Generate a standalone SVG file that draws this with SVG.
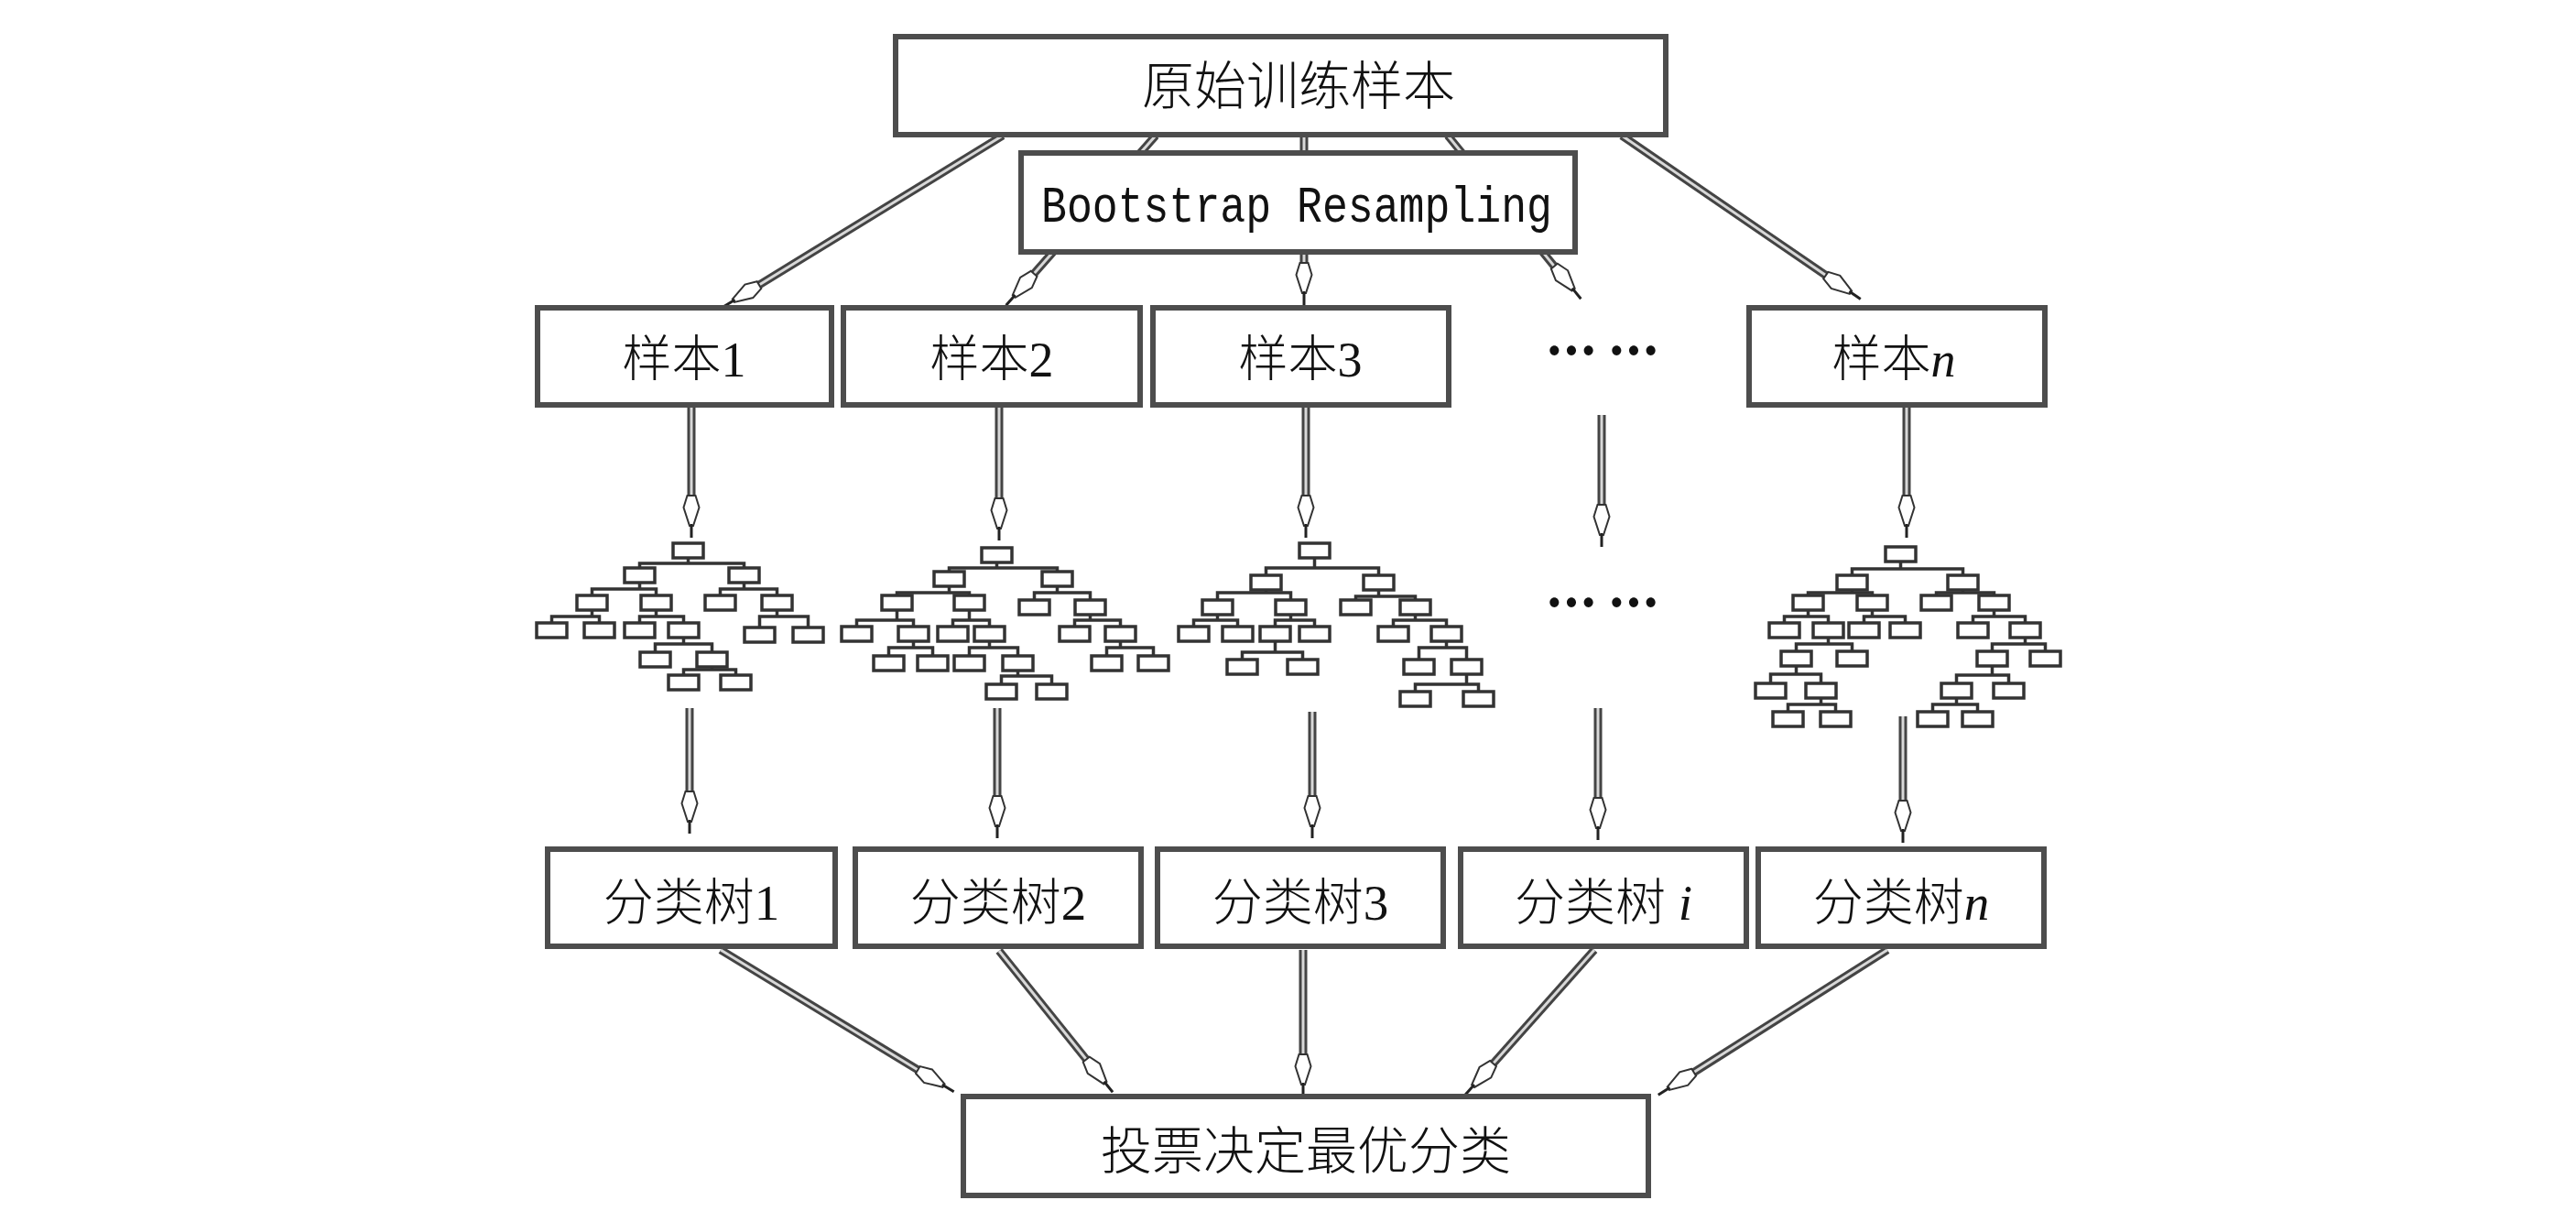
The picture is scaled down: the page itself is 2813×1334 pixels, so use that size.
<svg xmlns="http://www.w3.org/2000/svg" xmlns:xlink="http://www.w3.org/1999/xlink" width="2813" height="1334" viewBox="0 0 2813 1334">
<style>
.box{fill:#fff;stroke:#4d4d4d;stroke-width:6}
.cj{font-family:"Noto Sans CJK SC","Noto Sans CJK JP",sans-serif;font-size:54px;fill:#111;text-anchor:middle;font-weight:300}
.lat{font-family:"Liberation Serif",serif}
.it{font-family:"Liberation Serif",serif;font-style:italic}
.mono{font-family:"Liberation Mono",monospace;font-size:56px;fill:#111}
.tr rect{fill:#fff;stroke:#333;stroke-width:3.5}
.tr path{fill:none;stroke:#333;stroke-width:3.5}
.s1{stroke:#444;stroke-width:9}
.s2{stroke:#d8d8d8;stroke-width:3}
.dots{font-family:"Noto Sans CJK SC",sans-serif;font-size:60px;font-weight:900;fill:#111}
</style>
<defs>
<g id="hd">
<polygon points="-4.5,-46 -8.5,-33 -2,-13 2,-13 8.5,-33 4.5,-46" fill="#fff" stroke="#333" stroke-width="2"/>
<line x1="0" y1="-15" x2="0" y2="0" stroke="#222" stroke-width="3"/>
</g>
</defs>
<rect width="2813" height="1334" fill="#fff"/>
<g id="connectors">
<g transform="translate(1095 148) rotate(58.5)"><line class="s1" y2="312"/><line class="s2" y2="312"/><use xlink:href="#hd" y="358"/></g>
<g transform="translate(1262 148) rotate(41.4)"><line class="s1" y2="201"/><line class="s2" y2="201"/><use xlink:href="#hd" y="247"/></g>
<g transform="translate(1424 148)"><line class="s1" y2="139"/><line class="s2" y2="139"/><use xlink:href="#hd" y="185"/></g>
<g transform="translate(1581 148) rotate(-39.2)"><line class="s1" y2="184"/><line class="s2" y2="184"/><use xlink:href="#hd" y="230"/></g>
<g transform="translate(1771 148) rotate(-55.6)"><line class="s1" y2="270"/><line class="s2" y2="270"/><use xlink:href="#hd" y="316"/></g>
<g transform="translate(755 443)"><line class="s1" y2="98"/><line class="s2" y2="98"/><use xlink:href="#hd" y="144"/></g>
<g transform="translate(1091 445)"><line class="s1" y2="99"/><line class="s2" y2="99"/><use xlink:href="#hd" y="145"/></g>
<g transform="translate(1426 443)"><line class="s1" y2="98"/><line class="s2" y2="98"/><use xlink:href="#hd" y="144"/></g>
<g transform="translate(1749 453)"><line class="s1" y2="98"/><line class="s2" y2="98"/><use xlink:href="#hd" y="144"/></g>
<g transform="translate(2082 445)"><line class="s1" y2="96"/><line class="s2" y2="96"/><use xlink:href="#hd" y="142"/></g>
<g transform="translate(753 773)"><line class="s1" y2="91"/><line class="s2" y2="91"/><use xlink:href="#hd" y="137"/></g>
<g transform="translate(1089 773)"><line class="s1" y2="96"/><line class="s2" y2="96"/><use xlink:href="#hd" y="142"/></g>
<g transform="translate(1433 777)"><line class="s1" y2="92"/><line class="s2" y2="92"/><use xlink:href="#hd" y="138"/></g>
<g transform="translate(1745 773)"><line class="s1" y2="98"/><line class="s2" y2="98"/><use xlink:href="#hd" y="144"/></g>
<g transform="translate(2078 782)"><line class="s1" y2="92"/><line class="s2" y2="92"/><use xlink:href="#hd" y="138"/></g>
<g transform="translate(787 1037) rotate(-58.7)"><line class="s1" y2="252"/><line class="s2" y2="252"/><use xlink:href="#hd" y="298"/></g>
<g transform="translate(1091 1038) rotate(-38.8)"><line class="s1" y2="152"/><line class="s2" y2="152"/><use xlink:href="#hd" y="198"/></g>
<g transform="translate(1423 1037)"><line class="s1" y2="114"/><line class="s2" y2="114"/><use xlink:href="#hd" y="160"/></g>
<g transform="translate(1741 1037) rotate(41.7)"><line class="s1" y2="166"/><line class="s2" y2="166"/><use xlink:href="#hd" y="212"/></g>
<g transform="translate(2061 1037) rotate(57.7)"><line class="s1" y2="250"/><line class="s2" y2="250"/><use xlink:href="#hd" y="296"/></g>
</g>
<g id="n-original"><rect class="box" x="978" y="40" width="841" height="107"/><text class="cj" x="1418" y="114" style="font-size:57px">原始训练样本</text></g>
<g id="n-bootstrap"><rect class="box" x="1115" y="167" width="605" height="108"/><text class="mono" x="1137" y="242" textLength="558" lengthAdjust="spacingAndGlyphs">Bootstrap Resampling</text></g>
<g id="n-sample1"><rect class="box" x="587" y="336" width="321" height="106"/><text class="cj" x="747" y="411">样本<tspan class="lat">1</tspan></text></g>
<g id="n-sample2"><rect class="box" x="921" y="336" width="324" height="106"/><text class="cj" x="1083" y="411">样本<tspan class="lat">2</tspan></text></g>
<g id="n-sample3"><rect class="box" x="1259" y="336" width="323" height="106"/><text class="cj" x="1420" y="411">样本<tspan class="lat">3</tspan></text></g>
<g id="n-sample-dots"><text class="dots" y="406"><tspan x="1688" textLength="56" lengthAdjust="spacingAndGlyphs">…</tspan><tspan x="1756" textLength="56" lengthAdjust="spacingAndGlyphs">…</tspan></text></g>
<g id="n-samplen"><rect class="box" x="1910" y="336" width="323" height="106"/><text class="cj" x="2068" y="411">样本<tspan class="it">n</tspan></text></g>
<g id="tree1" class="tr">
<path d="M751.5 609V615M698.5 620V615H812.5V620M698.5 636V643M646.5 650V643H716.5V650M812.5 636V643M786.5 650V643H848.5V650M646.5 666V673M602.5 680V673H654.5V680M716.5 666V673M698.5 680V673H746.5V680M848.5 666V673M829.5 685V673H882.5V685M746.5 696V703M715.5 712V703H777.5V712M777.5 728V731M746.5 737V731H803.5V737"/>
<rect x="735" y="593" width="33" height="16"/><rect x="682" y="620" width="33" height="16"/><rect x="796" y="620" width="33" height="16"/>
<rect x="630" y="650" width="33" height="16"/><rect x="700" y="650" width="33" height="16"/><rect x="770" y="650" width="33" height="16"/><rect x="832" y="650" width="33" height="16"/>
<rect x="586" y="680" width="33" height="16"/><rect x="638" y="680" width="33" height="16"/><rect x="682" y="680" width="33" height="16"/><rect x="730" y="680" width="33" height="16"/><rect x="813" y="685" width="33" height="16"/><rect x="866" y="685" width="33" height="16"/>
<rect x="699" y="712" width="33" height="16"/><rect x="761" y="712" width="33" height="16"/>
<rect x="730" y="737" width="33" height="16"/><rect x="787" y="737" width="33" height="16"/>
</g>
<g id="tree2" class="tr">
<path d="M1088.5 614V620M1036.5 624V620H1154.5V624M1036.5 640V647M979.5 650V647H1058.5V650M1154.5 640V647M1129.5 655V647H1190.5V655M979.5 666V677M935.5 684V677H997.5V684M1058.5 666V677M1040.5 684V677H1080.5V684M1190.5 671V677M1173.5 684V677H1223.5V684M997.5 700V707M970.5 716V707H1018.5V716M1080.5 700V707M1058.5 716V707H1111.5V716M1223.5 700V707M1208.5 716V707H1259.5V716M1111.5 732V738M1093.5 747V738H1148.5V747"/>
<rect x="1072" y="598" width="33" height="16"/>
<rect x="1020" y="624" width="33" height="16"/><rect x="1138" y="624" width="33" height="16"/>
<rect x="963" y="650" width="33" height="16"/><rect x="1042" y="650" width="33" height="16"/><rect x="1113" y="655" width="33" height="16"/><rect x="1174" y="655" width="33" height="16"/>
<rect x="919" y="684" width="33" height="16"/><rect x="981" y="684" width="33" height="16"/><rect x="1024" y="684" width="33" height="16"/><rect x="1064" y="684" width="33" height="16"/><rect x="1157" y="684" width="33" height="16"/><rect x="1207" y="684" width="33" height="16"/>
<rect x="954" y="716" width="33" height="16"/><rect x="1002" y="716" width="33" height="16"/><rect x="1042" y="716" width="33" height="16"/><rect x="1095" y="716" width="33" height="16"/><rect x="1192" y="716" width="33" height="16"/><rect x="1243" y="716" width="33" height="16"/>
<rect x="1077" y="747" width="33" height="16"/><rect x="1132" y="747" width="33" height="16"/>
</g>
<g id="tree3" class="tr">
<path d="M1435.5 609V620M1382.5 628V620H1505.5V628M1382.5 643V647M1329.5 655V647H1409.5V655M1505.5 643V651M1480.5 655V651H1545.5V655M1329.5 671V677M1303.5 684V677H1351.5V684M1409.5 671V677M1392.5 684V677H1435.5V684M1545.5 671V677M1521.5 684V677H1579.5V684M1392.5 700V712M1356.5 720V712H1422.5V720M1579.5 700V707M1549.5 720V707H1601.5V720M1601.5 736V747M1545.5 755V747H1614.5V755"/>
<rect x="1419" y="593" width="33" height="16"/>
<rect x="1366" y="628" width="33" height="16"/><rect x="1489" y="628" width="33" height="16"/>
<rect x="1313" y="655" width="33" height="16"/><rect x="1393" y="655" width="33" height="16"/><rect x="1464" y="655" width="33" height="16"/><rect x="1529" y="655" width="33" height="16"/>
<rect x="1287" y="684" width="33" height="16"/><rect x="1335" y="684" width="33" height="16"/><rect x="1376" y="684" width="33" height="16"/><rect x="1419" y="684" width="33" height="16"/><rect x="1505" y="684" width="33" height="16"/><rect x="1563" y="684" width="33" height="16"/>
<rect x="1340" y="720" width="33" height="16"/><rect x="1406" y="720" width="33" height="16"/><rect x="1533" y="720" width="33" height="16"/><rect x="1585" y="720" width="33" height="16"/>
<rect x="1529" y="755" width="33" height="16"/><rect x="1598" y="755" width="33" height="16"/>
</g>
<g id="tree-dots"><text class="dots" y="681"><tspan x="1688" textLength="56" lengthAdjust="spacingAndGlyphs">…</tspan><tspan x="1756" textLength="56" lengthAdjust="spacingAndGlyphs">…</tspan></text></g>
<g id="treen" class="tr">
<path d="M2075.5 613V621M2022.5 628V621H2143.5V628M2022.5 644V647M1974.5 650V647H2044.5V650M2143.5 644V647M2114.5 650V647H2177.5V650M1974.5 666V673M1948.5 680V673H1996.5V680M2044.5 666V673M2035.5 680V673H2080.5V680M2177.5 666V673M2154.5 680V673H2211.5V680M1996.5 696V703M1961.5 711V703H2022.5V711M2211.5 696V703M2175.5 711V703H2233.5V711M1961.5 727V736M1933.5 746V736H1988.5V746M2175.5 727V737M2136.5 746V737H2193.5V746M1988.5 762V769M1952.5 777V769H2004.5V777M2136.5 762V769M2110.5 777V769H2159.5V777"/>
<rect x="2059" y="597" width="33" height="16"/>
<rect x="2006" y="628" width="33" height="16"/><rect x="2127" y="628" width="33" height="16"/>
<rect x="1958" y="650" width="33" height="16"/><rect x="2028" y="650" width="33" height="16"/><rect x="2098" y="650" width="33" height="16"/><rect x="2161" y="650" width="33" height="16"/>
<rect x="1932" y="680" width="33" height="16"/><rect x="1980" y="680" width="33" height="16"/><rect x="2019" y="680" width="33" height="16"/><rect x="2064" y="680" width="33" height="16"/><rect x="2138" y="680" width="33" height="16"/><rect x="2195" y="680" width="33" height="16"/>
<rect x="1945" y="711" width="33" height="16"/><rect x="2006" y="711" width="33" height="16"/><rect x="2159" y="711" width="33" height="16"/><rect x="2217" y="711" width="33" height="16"/>
<rect x="1917" y="746" width="33" height="16"/><rect x="1972" y="746" width="33" height="16"/><rect x="2120" y="746" width="33" height="16"/><rect x="2177" y="746" width="33" height="16"/>
<rect x="1936" y="777" width="33" height="16"/><rect x="1988" y="777" width="33" height="16"/><rect x="2094" y="777" width="33" height="16"/><rect x="2143" y="777" width="33" height="16"/>
</g>
<g id="n-tree1"><rect class="box" x="598" y="927" width="314" height="106"/><text class="cj" x="755" y="1004" style="font-size:55px">分类树<tspan class="lat">1</tspan></text></g>
<g id="n-tree2"><rect class="box" x="934" y="927" width="312" height="106"/><text class="cj" x="1090" y="1004" style="font-size:55px">分类树<tspan class="lat">2</tspan></text></g>
<g id="n-tree3"><rect class="box" x="1264" y="927" width="312" height="106"/><text class="cj" x="1420" y="1004" style="font-size:55px">分类树<tspan class="lat">3</tspan></text></g>
<g id="n-treei"><rect class="box" x="1595" y="927" width="312" height="106"/><text class="cj" x="1751" y="1004" style="font-size:55px">分类树<tspan class="it"> i</tspan></text></g>
<g id="n-treen"><rect class="box" x="1920" y="927" width="312" height="106"/><text class="cj" x="2076" y="1004" style="font-size:55px">分类树<tspan class="it">n</tspan></text></g>
<g id="n-vote"><rect class="box" x="1052" y="1197" width="748" height="108"/><text class="cj" x="1426" y="1276" style="font-size:56px">投票决定最优分类</text></g>
</svg>
